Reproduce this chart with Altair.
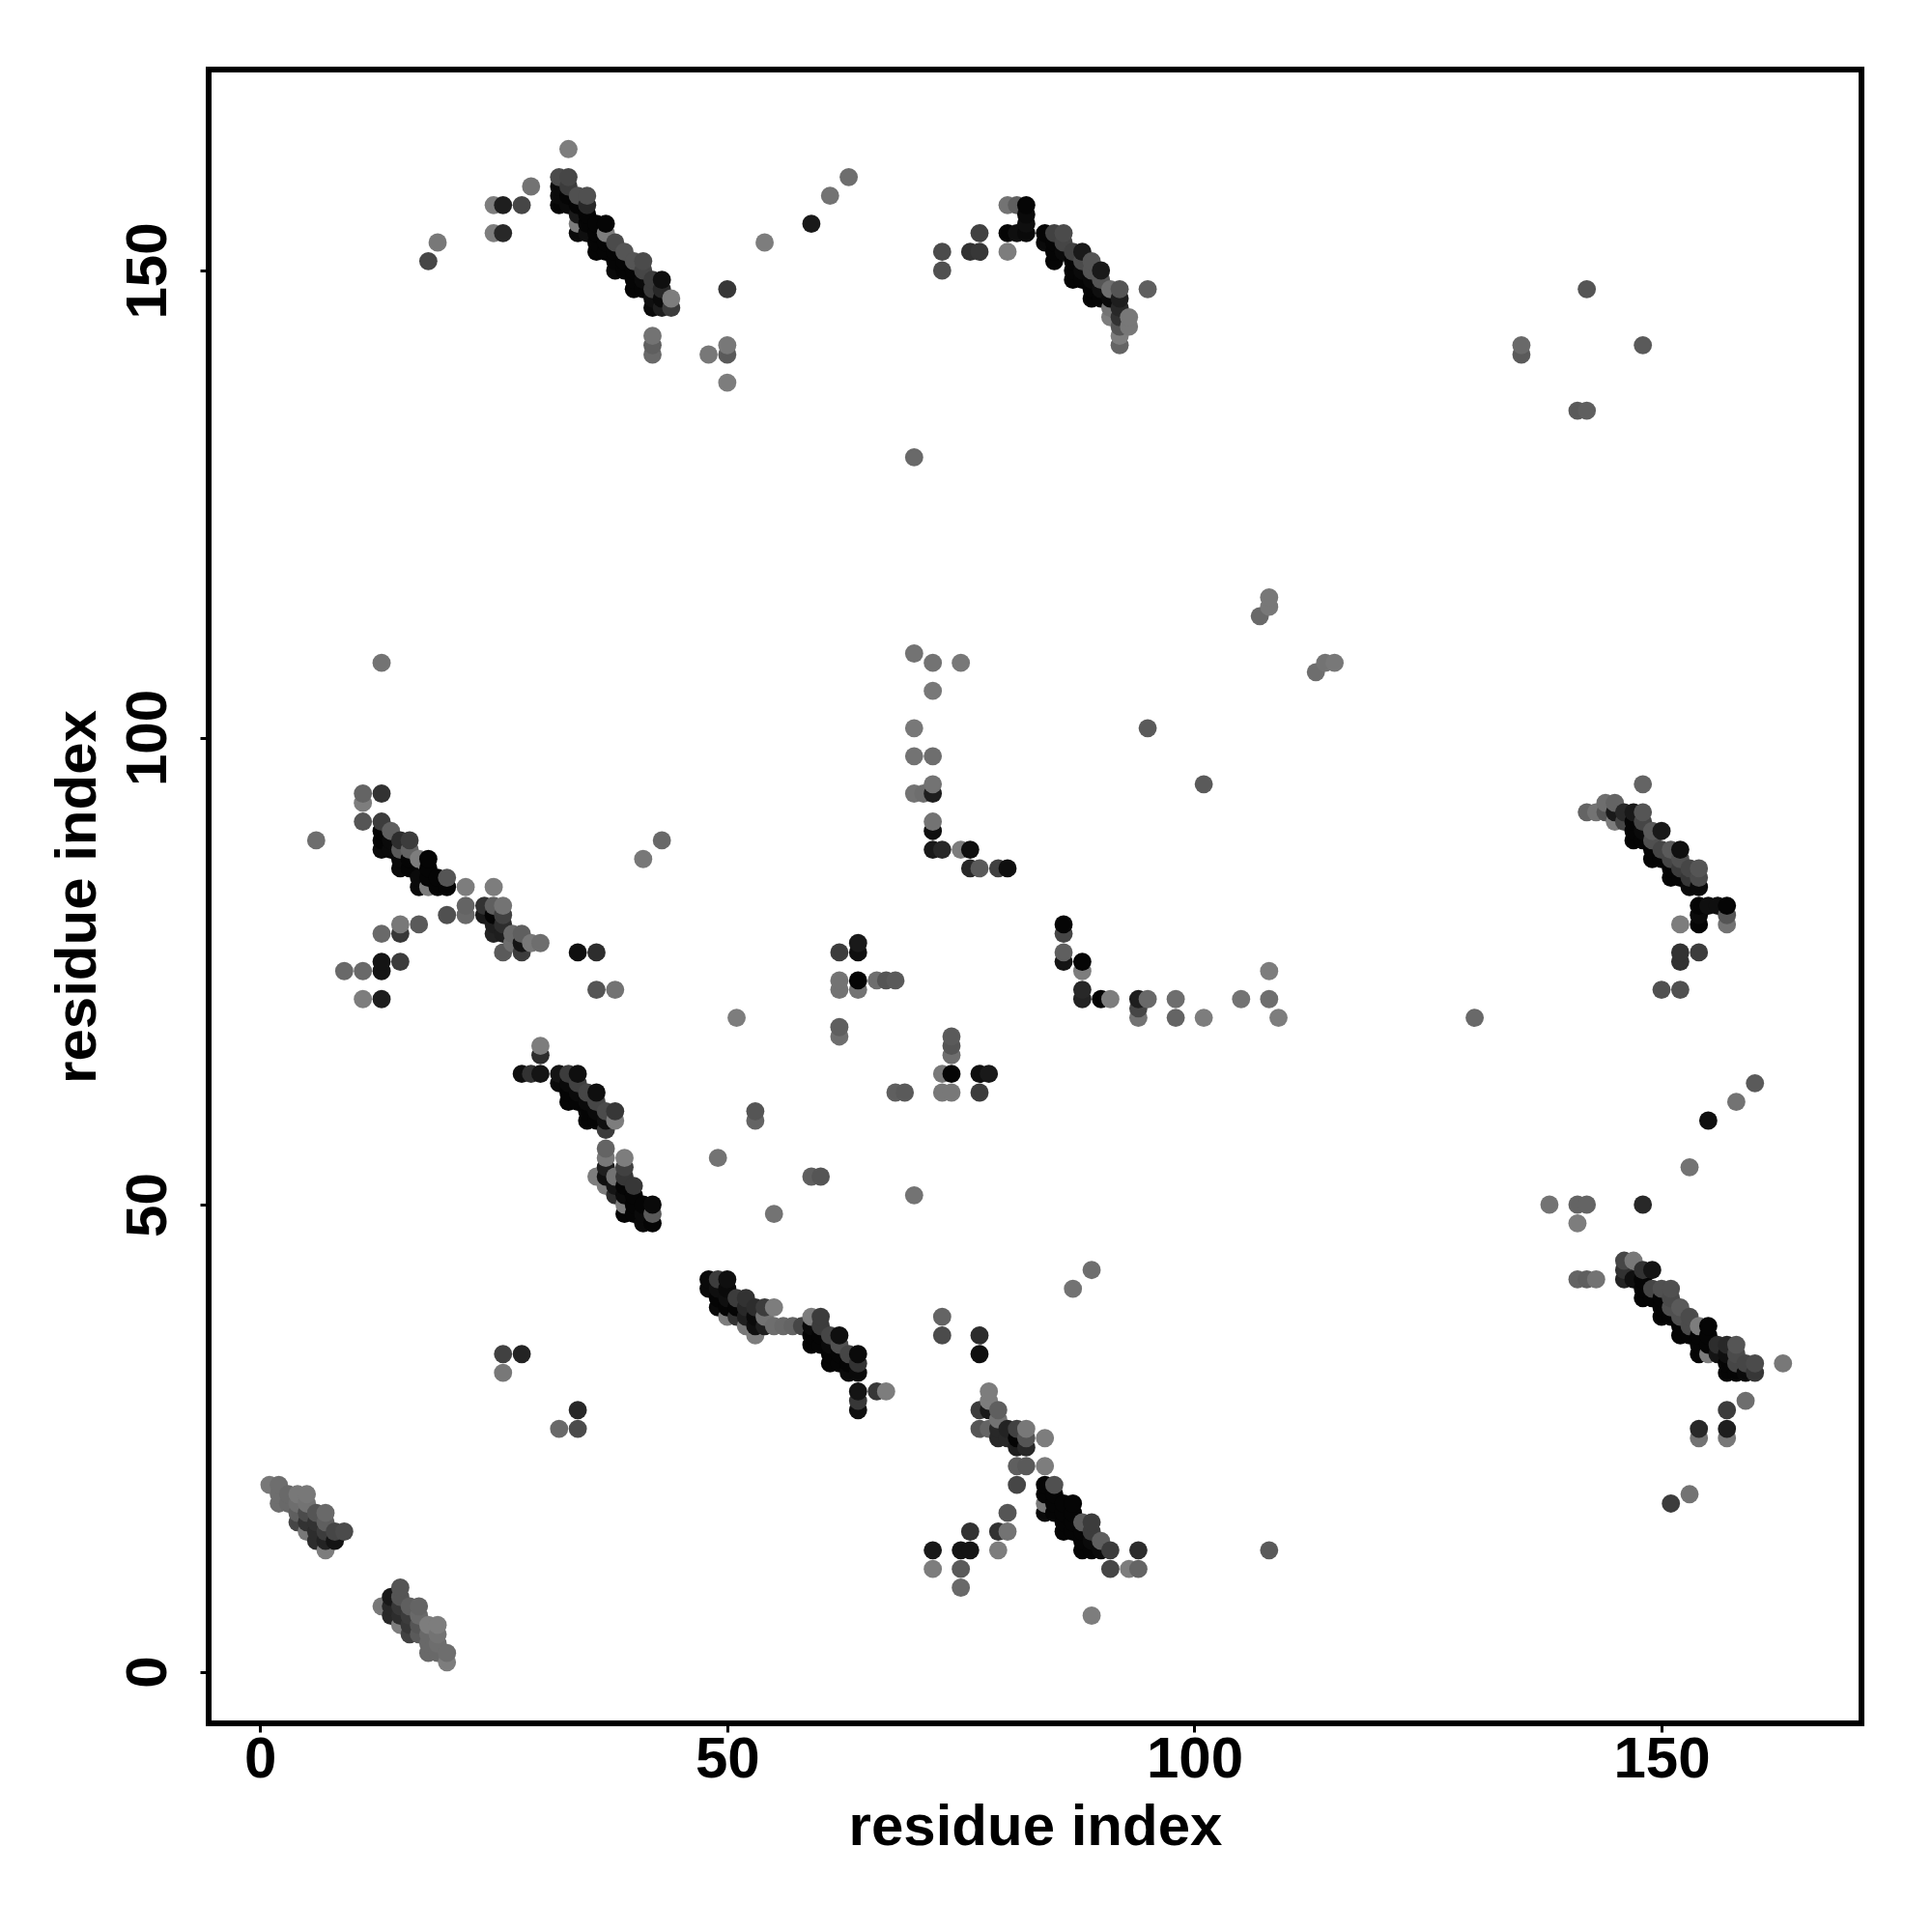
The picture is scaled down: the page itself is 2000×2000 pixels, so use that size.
import altair as alt
import pandas as pd

# each row: residue i, residue j, grey shade (0 black .. 128 mid grey)
helix_a = [(1,20,120),(2,20,110),(2,19,110),(2,18,110),(3,19,105),(3,18,105),(4,19,120),(5,19,120),
           (4,18,110),(5,18,115),(4,17,95),(5,17,75),(4,16,70),(5,16,50),(5,15,120),(6,17,85),(7,17,105),
           (6,16,50),(7,16,95),(6,15,45),(7,15,60),(6,14,45),(7,14,35),(7,13,125),(8,15,70),(8,14,20),(9,15,75)]
helix_b = [(15,9,85),(15,8,85),(14,8,25),(13,7,120),(14,7,40),(14,6,40),(15,5,125),(16,7,95),(17,7,100),
           (15,7,55),(15,6,45),(16,6,60),(16,5,55),(17,6,105),(17,5,85),(17,4,90),(16,4,65),(18,5,125),(19,5,125),
           (19,4,115),(18,4,105),(18,3,105),(19,3,110),(18,2,105),(19,2,105),(20,2,110),(20,1,125)]
band_top_left = [(32,157,5),(32,158,10),(32,159,10),(32,160,75),(33,157,10),(33,158,5),(33,159,60),(33,160,70),
                 (34,154,10),(34,155,125),(34,156,25),(34,157,5),(34,158,80),(35,154,15),(35,155,5),(35,156,5),
                 (35,157,40),(35,158,80),(36,152,5),(36,153,5),(36,154,5),(36,155,5),(37,152,5),(37,153,5),
                 (37,154,125),(37,155,5),(38,150,10),(38,151,5),(38,152,5),(38,153,75),(39,150,5),(39,151,5),
                 (39,152,85),(40,148,5),(40,149,5),(40,150,5),(40,151,85),(41,148,5),(41,149,10),(41,150,70),
                 (41,151,75),(42,146,10),(42,147,15),(42,148,60),(42,149,60),(43,146,30),(43,147,10),(43,148,40),
                 (43,149,15),(44,146,60),(44,147,125)]
scatter_top_left = [(33,163,125),(29,159,115),(25,157,125),(26,157,30),(28,157,70),(25,154,125),(26,154,40),
                    (19,153,120),(18,151,70),(50,148,55),(54,153,125),(59,155,25),(61,158,115),(63,160,110),
                    (48,141,120),(50,141,90),(50,142,120),(50,138,125),(42,143,115),(42,142,95),(42,141,105),
                    (70,130,105)]
scatter_top_right = [(135,142,105),(135,141,90),(142,148,85),(148,142,90),(141,135,90),(142,135,95)]
band_top_middle = [(73,152,75),(73,150,80),(76,152,50),(77,152,55),(77,154,65),(80,157,115),(81,157,95),(82,157,5),
                   (82,156,10),(82,155,15),(82,154,10),(80,154,5),(81,154,15),(80,152,125),
                   (84,154,5),(85,154,65),(86,154,75),(84,153,10),(85,153,5),(86,153,70),(85,151,5),(85,152,5),
                   (86,152,10),(87,152,65),(88,152,25),(87,151,5),(88,151,75),(89,151,85),(87,149,5),(87,150,5),
                   (88,150,10),(89,150,85),(90,150,25),(88,149,5),(89,149,10),(90,149,85),(89,147,5),(89,148,5),
                   (90,148,15),(91,148,110),(92,148,85),(90,147,5),(91,147,10),(92,147,30),(92,146,40),(91,146,115),
                   (91,145,125),(92,145,50),(93,145,120),(93,144,120),(92,144,85),(92,143,125),(92,142,100),(95,148,95)]
band_mid_left = [(11,94,100),(13,94,50),(11,93,125),(11,91,85),(13,91,60),(14,90,95),(15,89,45),(16,89,60),
                 (13,90,5),(13,89,5),(13,88,10),(14,89,10),(14,88,10),(15,88,90),(15,87,10),(15,86,10),(16,88,100),
                 (16,87,5),(16,86,5),(17,87,125),(18,87,5),(18,86,5),(18,85,5),(17,85,10),(17,84,10),(18,84,125),
                 (19,85,5),(19,84,5),(20,85,85),(20,84,5),(22,84,125),(25,84,125),(22,82,100),(22,81,105),(20,81,80),
                 (24,82,50),(24,81,25),(25,82,95),(26,82,115),(25,81,5),(26,81,65),(25,80,30),(26,80,45),(25,79,35),
                 (26,79,30),(27,79,105),(28,79,95),(27,78,110),(28,78,20),(29,78,120),(30,78,110),(26,77,90),(28,77,60),
                 (15,80,120),(17,80,90),(15,79,55),(13,79,105),(13,76,20),(13,75,20),(15,76,60),(9,75,105),(11,75,105),
                 (11,72,125),(13,72,30),(34,77,15),(36,77,45),(36,73,85),(38,73,115),(6,89,110),(13,108,115),(41,87,120),(43,89,105)]
band_mid_center = [(30,67,125),(30,66,45),(28,64,15),(29,64,50),(30,64,20),(32,64,20),(33,64,60),(34,64,15),
                   (32,63,10),(33,63,10),(34,63,65),(33,61,5),(33,62,5),(34,62,10),(35,62,70),(36,62,15),(34,61,5),
                   (35,61,10),(36,61,70),(35,59,5),(35,60,5),(36,60,10),(37,60,75),(38,60,55),(36,59,5),(37,59,15),
                   (38,59,125),(37,58,60),(37,56,100),(37,55,120),(39,55,125),(37,54,30),(39,54,65),(36,53,125),
                   (37,53,15),(37,52,125),(38,53,115),(38,52,20),(39,53,55),(40,52,55),(38,51,45),(39,52,5),(39,51,10),
                   (40,51,5),(41,50,5),(42,50,10),(39,50,125),(40,50,5),(39,49,5),(40,49,5),(41,49,10),(42,49,90),
                   (41,48,10),(42,48,5)]
band_low_center = [(48,42,10),(49,42,60),(50,42,15),(48,41,10),(49,41,15),(50,41,10),(49,39,10),(49,40,5),(50,40,15),
                   (51,40,60),(52,40,50),(50,39,5),(51,39,5),(52,39,40),(53,39,45),(54,39,60),(55,39,125),(50,38,125),
                   (51,38,50),(52,38,30),(53,38,10),(54,38,115),(55,37,110),(56,37,105),(57,37,100),(52,37,120),(53,37,15),
                   (54,37,30),(53,36,125),(58,37,70),(59,38,125),(60,38,60),(59,37,10),(59,36,5),(59,35,5),(60,37,60),
                   (60,36,5),(60,35,5),(61,36,70),(62,36,15),(61,35,10),(61,34,5),(61,33,5),(62,35,80),(62,34,5),(62,33,5),
                   (63,34,70),(64,34,10),(63,33,5),(63,32,10),(64,33,50),(64,32,10),(64,30,20),(64,29,55),(64,28,15),
                   (66,30,55),(67,30,125),(73,36,75),(73,38,100),(77,36,45),(77,34,15),(26,34,65),(28,34,35),(26,32,120),
                   (32,26,105),(34,28,40),(34,26,75)]
band_low_right = [(78,30,125),(78,29,125),(77,28,60),(78,28,25),(79,28,95),(79,27,115),(77,26,85),(78,26,100),(79,26,40),
                  (80,26,35),(81,26,65),(82,26,120),(84,25,125),(79,25,40),(80,25,40),(81,25,5),(82,25,85),(81,24,30),
                  (82,24,40),(81,22,95),(82,22,90),(84,22,125),(81,20,70),(84,20,5),(85,20,80),(84,19,5),(85,19,5),
                  (84,18,120),(84,17,10),(85,18,5),(85,17,5),(86,18,5),(87,18,5),(86,17,5),(86,15,5),(86,16,5),
                  (87,17,5),(88,16,90),(89,16,60),(87,16,5),(87,15,5),(88,15,5),(89,15,60),(88,13,5),(88,14,5),
                  (89,14,10),(90,14,95),(89,13,5),(90,13,10),(91,13,60),(91,11,70),(93,11,125),(94,11,100),(94,13,45),
                  (72,13,25),(72,11,125),(75,13,20),(76,13,20),(76,15,50),(75,11,90),(75,9,105),(79,13,125),(79,15,50),
                  (80,15,115),(80,17,85),(108,13,90),(89,6,125),(87,41,115),(89,43,110)]
patch_center = [(64,78,25),(64,77,15),(62,77,60),(62,74,115),(62,73,115),(64,74,5),(64,73,115),(66,74,110),(67,74,85),
                (68,74,90),(62,69,95),(62,68,110),(68,62,95),(69,62,90),(74,68,90),(74,67,85),(74,66,110),(73,64,120),
                (74,64,5),(73,62,120),(74,62,120),(77,64,15),(78,64,25),(77,62,60),(51,70,125),(49,55,115),(53,60,85),
                (53,59,100),(55,49,115),(59,53,95),(60,53,85),(70,51,115)]
arc_center = [(86,80,5),(86,79,70),(86,77,95),(86,76,20),(88,76,5),(88,75,125),(88,73,40),(88,72,35),(90,72,5),(91,72,125),
              (94,72,30),(95,72,105),(94,71,70),(94,70,115),(98,72,110),(98,70,100),(101,70,125),(105,72,115),(108,75,125),
              (108,72,110),(109,70,125),(130,70,105)]
arc_upper = [(70,109,115),(72,108,115),(75,108,120),(72,105,120),(70,101,120),(70,98,115),(72,98,110),(70,94,115),(71,94,110),
             (72,94,30),(72,95,115),(72,91,115),(72,90,15),(72,88,25),(73,88,40),(75,88,125),(76,88,15),(76,86,40),(77,86,90),
             (79,86,65),(80,86,15),(107,113,105),(108,114,120),(108,115,120),(113,107,110),(114,108,115),(115,108,120),
             (95,101,90),(101,95,90)]
band_mid_right = [(148,95,100),(142,92,100),(143,92,115),(144,93,110),(145,93,100),(144,92,85),(145,91,125),(145,92,25),(146,92,40),
                  (147,92,25),(148,92,85),(146,91,70),(147,91,5),(148,91,70),(147,89,5),(147,90,5),(148,90,10),(149,90,90),(150,90,25),
                  (148,89,5),(149,89,80),(149,87,5),(149,88,5),(150,88,70),(151,88,90),(152,88,15),(150,87,5),(151,87,70),(151,85,5),
                  (151,86,5),(152,87,80),(152,86,60),(153,86,70),(154,86,85),(152,85,5),(153,85,55),(154,85,75),(153,84,10),(154,84,10),
                  (154,82,5),(155,82,15),(156,82,15),(157,82,5),(154,81,10),(154,80,5),(157,81,85),(157,80,115),(152,80,125),
                  (152,77,50),(152,76,50),(154,77,60),(150,73,80),(152,73,80)]
band_low_far_right = [(141,42,100),(142,42,95),(143,42,115),(146,44,70),(147,44,120),(146,43,50),(146,42,35),(148,43,50),(149,43,20),
                      (148,42,5),(147,42,15),(148,40,5),(148,41,5),(149,41,70),(150,41,80),(151,41,80),(149,40,5),(150,40,5),(151,40,75),
                      (150,38,5),(150,39,5),(151,39,80),(152,39,90),(153,38,75),(151,38,5),(152,38,80),(152,36,5),(152,37,5),(153,37,75),
                      (154,37,125),(155,37,5),(153,36,5),(154,36,5),(155,36,5),(154,34,5),(154,35,5),(155,35,5),(156,35,45),(157,35,40),
                      (158,35,85),(155,34,125),(156,34,20),(157,34,15),(158,34,75),(157,32,5),(157,33,5),(158,33,70),(159,33,70),(160,33,75),
                      (158,32,5),(159,32,10),(160,32,55),(163,33,120),(159,29,110),(157,28,60),(154,26,40),(154,25,115),(157,26,30),(157,25,120)]
scatter_right = [(138,50,115),(141,50,100),(142,50,100),(141,48,125),(148,50,40),(155,59,15),(158,61,115),(160,63,90),
                 (153,54,115),(151,18,60),(153,19,115)]

groups = [helix_a, helix_b, band_top_left, scatter_top_left, scatter_top_right, band_top_middle, band_mid_left,
          band_mid_center, band_low_center, band_low_right, patch_center, arc_center, arc_upper, band_mid_right,
          band_low_far_right, scatter_right]
rows = [r for g in groups for r in g]
df = pd.DataFrame(rows, columns=["i", "j", "shade"]).sort_values(["i", "j"], kind="stable")
df["c"] = df["shade"].map(lambda s: "#{0:02x}{0:02x}{0:02x}".format(int(s)))
df["o"] = range(len(df))

tick_values = [0, 50, 100, 150]
font = "Liberation Sans"

chart = alt.Chart(df).mark_circle(size=355, opacity=1).encode(
    x=alt.X("i:Q", scale=alt.Scale(domain=[-5.51, 171.4], nice=False, zero=False),
            axis=alt.Axis(values=tick_values, title="residue index", grid=False, domain=False, format="d",
                          tickColor="black", tickWidth=3, tickSize=9,
                          labelFont=font, labelFontWeight="bold", labelFontSize=60, labelColor="black",
                          labelPadding=-1, labelFlush=False, labelOverlap=False,
                          titleFont=font, titleFontWeight="bold", titleFontSize=60, titleColor="black",
                          titlePadding=11)),
    y=alt.Y("j:Q", scale=alt.Scale(domain=[-5.53, 171.51], nice=False, zero=False),
            axis=alt.Axis(values=tick_values, title="residue index", grid=False, domain=False, format="d",
                          tickColor="black", tickWidth=3, tickSize=9,
                          labelFont=font, labelFontWeight="bold", labelFontSize=60, labelColor="black",
                          labelAngle=270, labelAlign="center", labelBaseline="bottom",
                          labelPadding=23, labelFlush=False, labelOverlap=False,
                          titleFont=font, titleFontWeight="bold", titleFontSize=60, titleColor="black",
                          titlePadding=12)),
    color=alt.Color("c:N", scale=None),
    order=alt.Order("o:Q"),
).properties(
    width=1711, height=1712,
    background="white",
    autosize=alt.AutoSizeParams(type="none"),
    padding={"left": 208, "top": 64, "right": 60, "bottom": 200},
).configure_view(stroke="black", strokeWidth=6, fill="white")

chart.save("out.html", embed_options={"renderer": "svg", "actions": False})
